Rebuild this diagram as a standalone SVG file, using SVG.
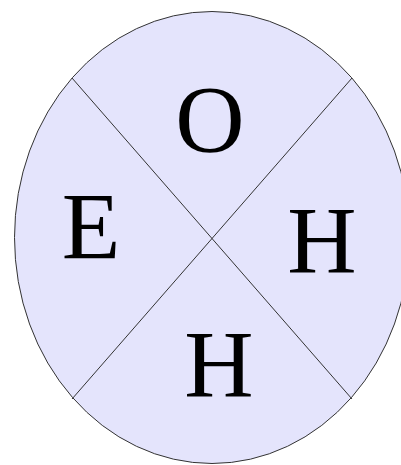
<svg xmlns="http://www.w3.org/2000/svg" width="401" height="465" viewBox="0 0 401 465">
<style>
.lbl{font-family:"Liberation Serif","Times New Roman",serif;font-size:96px;fill:#000;text-anchor:middle}
.ln{stroke:#333;stroke-width:1;fill:none}
</style>
<rect width="401" height="465" fill="#fff"/>
<g id="ellipse">
<ellipse cx="212" cy="237.5" rx="197.5" ry="226" fill="#e4e4fc" stroke="#333" stroke-width="1"/>
</g>
<g id="connectors">
<line class="ln" x1="72" y1="78" x2="352" y2="399"/>
<line class="ln" x1="352" y1="78" x2="72" y2="399"/>
</g>
<g id="node-O"><text class="lbl" x="210" y="152">O</text></g>
<g id="node-E"><text class="lbl" x="91" y="259">E</text></g>
<g id="node-H1"><text class="lbl" x="322" y="273">H</text></g>
<g id="node-H2"><text class="lbl" x="219" y="397">H</text></g>
</svg>
